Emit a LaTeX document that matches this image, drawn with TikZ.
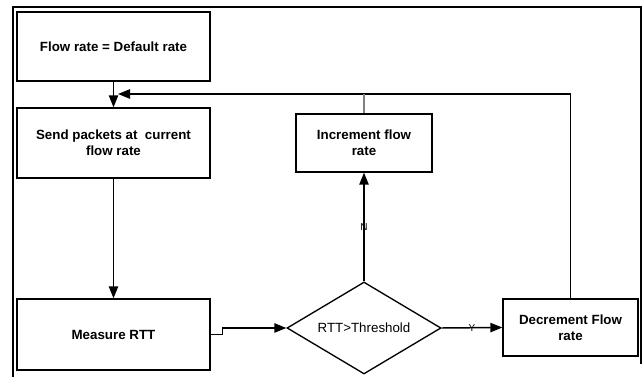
\documentclass[tikz,border=0pt]{standalone}
\usepackage{fontspec}
\setmainfont{Liberation Sans}
\usetikzlibrary{shapes.geometric,arrows.meta}
\tikzset{
  box/.style={draw, line width=1pt, font=\bfseries, align=center, inner sep=2pt},
  test/.style={draw, diamond, line width=1pt, inner sep=0pt, aspect=1.67,
    minimum width=115.5pt, minimum height=69pt},
  flow/.style={line width=1.1pt, -{Triangle[length=9pt,width=7pt]}},
  tag/.style={font=\fontsize{7.5}{8}\selectfont, inner sep=0pt}
}
\begin{document}
\begin{tikzpicture}[x=0.75pt, y=-0.75pt]
    \useasboundingbox (0,0) rectangle (643,377);
    % 外框
    \draw[line width=2pt] (13,377) -- (13,7) -- (641,7) -- (641,364);

    % 方框
    \node[box, minimum width=144.75pt, minimum height=51.75pt] (init) at (113.5,46.5) {Flow rate = Default rate};
    \node[box, minimum width=144.75pt, minimum height=52.5pt] (send) at (113.5,143) {Send packets at \ current\\flow rate};
    \node[box, minimum width=144.75pt, minimum height=53.25pt] (meas) at (113.5,334.5) {Measure RTT};
    \node[box, minimum width=102pt, minimum height=43.5pt] (incr) at (364,143) {Increment flow\\rate};
    \node[box, minimum width=101.25pt, minimum height=42.75pt] (decr) at (570.5,327.5) {Decrement Flow\\rate};
    \node[test] (check) at (364,328) {RTT>Threshold};
    \coordinate (join) at (118,94);

    % 连线
    \draw[flow] (init) -- (send);
    \draw[flow] (send) -- (meas);
    \draw[flow] (meas.east) -- ++(12,0) |- (check.west);
    \draw[flow] (check.north) -- (incr.south);
    \draw[flow] (check.east) -- (decr.west);
    \draw[flow] (decr.north) |- (join);
    \draw[gray, line width=1.1pt] (incr.north) -- (incr.north |- join);

    % 标注
    \node[tag] (no) at (364,227) {N};
    \node[tag] (yes) at (472,328) {Y};
\end{tikzpicture}
\end{document}
